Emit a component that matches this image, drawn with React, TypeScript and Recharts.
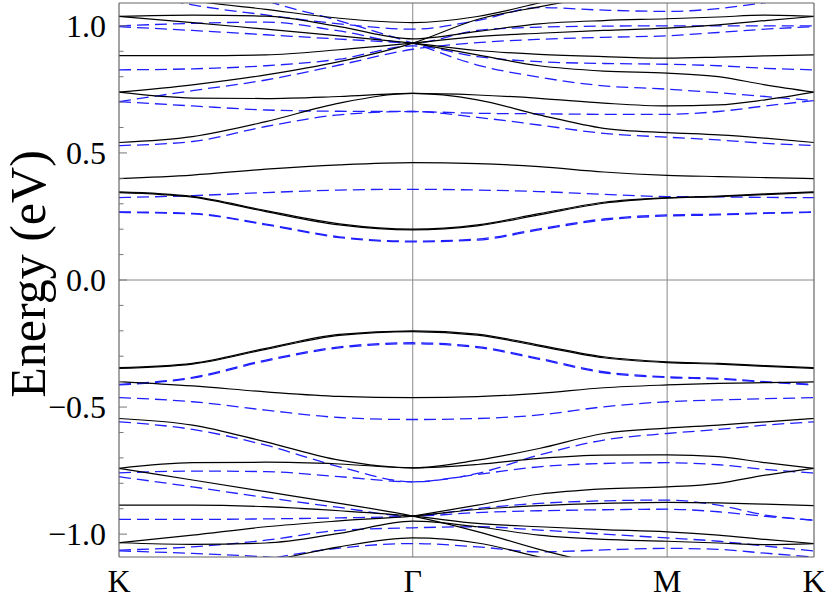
import {LineChart, Line, XAxis, YAxis, ReferenceLine} from 'recharts';

const FONT = 'Liberation Serif, Times New Roman, Nimbus Roman, serif';

// k-path positions: K, Gamma, M, K (lengths 1 : 0.866 : 0.5)
const U = [0, 0.25, 0.5, 0.75, 1, 1.22, 1.43, 1.65, 1.866, 2.04, 2.2, 2.366];
const X_TICKS = [0, 1, 1.866, 2.366];
const X_LABELS = ['K', 'Γ', 'M', 'K'];
const Y_TICKS = [
  -1.0, -0.9, -0.8, -0.7, -0.6, -0.5, -0.4, -0.3, -0.2, -0.1, 0, 0.1, 0.2,
  0.3, 0.4, 0.5, 0.6, 0.7, 0.8, 0.9, 1.0,
];
const Y_MAJOR = [-1.0, -0.5, 0, 0.5, 1.0];

// black solid bands
const c1 = [0.344, 0.326, 0.269, 0.217, 0.197, 0.213, 0.256, 0.302, 0.322, 0.328, 0.336, 0.344];
const c2 = [0.347, 0.329, 0.273, 0.221, 0.2, 0.217, 0.261, 0.306, 0.324, 0.33, 0.339, 0.347];
const c3 = [0.399, 0.413, 0.436, 0.453, 0.462, 0.458, 0.446, 0.425, 0.412, 0.407, 0.403, 0.399];
const c4 = [0.541, 0.564, 0.623, 0.696, 0.734, 0.709, 0.65, 0.597, 0.58, 0.571, 0.558, 0.541];
const c5 = [0.739, 0.716, 0.714, 0.722, 0.734, 0.728, 0.715, 0.696, 0.685, 0.689, 0.709, 0.739];
const c6 = [0.739, 0.768, 0.807, 0.859, 0.932, 1.025, 1.075, 1.12, 1.16, 1.18, 1.18, 1.17];
const c7 = [0.883, 0.883, 0.886, 0.906, 0.932, 0.958, 0.971, 0.982, 0.991, 1.004, 1.021, 1.037];
const c8 = [1.037, 1.013, 0.987, 0.961, 0.932, 0.903, 0.888, 0.879, 0.873, 0.877, 0.882, 0.886];
const c9 = [1.037, 1.042, 1.038, 0.997, 0.949, 0.978, 1.008, 1.021, 1.028, 1.035, 1.042, 1.037];
const c10 = [null, null, null, null, 0.932, 0.886, 0.843, 0.822, 0.814, 0.8, 0.768, 0.739];
const c11 = [1.16, 1.1, 1.065, 1.03, 1.013, 1.037, 1.09, 1.15, 1.18, 1.18, 1.17, 1.16];

const d1 = [-0.345, -0.328, -0.269, -0.214, -0.2, -0.213, -0.256, -0.302, -0.322, -0.328, -0.337, -0.345];
const d2 = [-0.348, -0.331, -0.273, -0.218, -0.203, -0.217, -0.26, -0.306, -0.325, -0.331, -0.34, -0.348];
const d3 = [-0.4, -0.417, -0.44, -0.458, -0.463, -0.459, -0.446, -0.424, -0.413, -0.407, -0.404, -0.401];
const d4 = [-0.545, -0.571, -0.637, -0.709, -0.739, -0.709, -0.663, -0.604, -0.583, -0.571, -0.558, -0.545];
const d5 = [-0.741, -0.719, -0.717, -0.724, -0.739, -0.726, -0.702, -0.689, -0.688, -0.695, -0.719, -0.741];
const d6 = [-0.741, -0.787, -0.833, -0.879, -0.929, -0.99, -1.06, -1.12, -1.16, -1.18, -1.18, -1.17];
const d7 = [-0.886, -0.886, -0.892, -0.908, -0.929, -0.958, -0.971, -0.982, -0.991, -1.004, -1.021, -1.037];
const d8 = [-1.034, -1.004, -0.971, -0.948, -0.929, -0.903, -0.888, -0.879, -0.875, -0.877, -0.882, -0.888];
const d9 = [-1.034, -1.04, -1.035, -0.997, -0.949, -0.971, -1.004, -1.021, -1.028, -1.035, -1.041, -1.037];
const d10 = [null, null, null, null, -0.929, -0.886, -0.843, -0.822, -0.814, -0.8, -0.768, -0.741];
const d11 = [-1.25, -1.18, -1.11, -1.05, -1.015, -1.035, -1.09, -1.15, -1.18, -1.18, -1.2, -1.25];

// blue dashed bands
const e1 = [0.324, 0.332, 0.344, 0.354, 0.357, 0.354, 0.348, 0.337, 0.328, 0.327, 0.325, 0.324];
const e2 = [0.266, 0.26, 0.217, 0.167, 0.15, 0.157, 0.197, 0.236, 0.252, 0.256, 0.262, 0.266];
const e3 = [0.268, 0.262, 0.22, 0.17, 0.153, 0.161, 0.201, 0.24, 0.256, 0.259, 0.264, 0.268];
const e4 = [0.529, 0.545, 0.604, 0.65, 0.663, 0.64, 0.61, 0.577, 0.562, 0.551, 0.538, 0.529];
const e5 = [0.702, 0.685, 0.669, 0.664, 0.663, 0.656, 0.654, 0.652, 0.652, 0.663, 0.685, 0.706];
const e6 = [0.702, 0.745, 0.787, 0.846, 0.908, 0.934, 0.947, 0.955, 0.961, 0.974, 0.987, 0.997];
const e7 = [0.827, 0.831, 0.843, 0.869, 0.921, 0.879, 0.859, 0.852, 0.849, 0.843, 0.833, 0.827];
const e8 = [1.35, 1.22, 1.1, 1.02, 0.932, 0.846, 0.798, 0.764, 0.751, 0.737, 0.722, 0.706];
const e9 = [1.0, 1.01, 1.015, 0.98, 0.932, 0.982, 0.995, 0.999, 1.0, 1.0, 1.0, 1.0];
const e10 = [0.997, 0.982, 0.965, 0.948, 0.932, null, null, null, null, null, null, null];
const e11 = [1.15, 1.083, 1.043, 1.008, 0.987, 1.021, 1.072, 1.062, 1.057, 1.068, 1.092, 1.12];

const f1 = [-0.411, -0.383, -0.315, -0.263, -0.247, -0.262, -0.308, -0.361, -0.381, -0.387, -0.4, -0.411];
const f2 = [-0.413, -0.386, -0.319, -0.267, -0.251, -0.266, -0.312, -0.365, -0.384, -0.39, -0.402, -0.413];
const f3 = [-0.463, -0.479, -0.512, -0.541, -0.549, -0.545, -0.531, -0.499, -0.479, -0.472, -0.467, -0.463];
const f4 = [-0.558, -0.588, -0.65, -0.735, -0.794, -0.761, -0.689, -0.63, -0.604, -0.588, -0.571, -0.558];
const f5 = [-0.759, -0.752, -0.754, -0.774, -0.794, -0.765, -0.735, -0.722, -0.719, -0.727, -0.745, -0.76];
const f6 = [-0.774, -0.814, -0.856, -0.895, -0.929, -0.915, -0.908, -0.904, -0.902, -0.912, -0.93, -0.945];
const f7 = [-0.942, -0.942, -0.94, -0.936, -0.929, -0.899, -0.879, -0.869, -0.866, -0.886, -0.925, -0.945];
const f8 = [-1.063, -1.05, -1.024, -0.985, -0.975, -0.971, -0.984, -1.0, -1.015, -1.028, -1.047, -1.066];
const f9 = [-1.066, -1.076, -1.09, -1.12, -1.16, -1.2, -1.2, -1.18, -1.15, -1.13, -1.12, -1.12];
const f10 = [-1.25, -1.17, -1.1, -1.055, -1.037, -1.05, -1.07, -1.062, -1.056, -1.06, -1.075, -1.09];

const BLACK = [c1, c2, c3, c4, c5, c6, c7, c8, c9, c10, c11, d1, d2, d3, d4, d5, d6, d7, d8, d9, d10, d11];
const BLUE = [e1, e2, e3, e4, e5, e6, e7, e8, e9, e10, e11, f1, f2, f3, f4, f5, f6, f7, f8, f9, f10];

const AXIS_X = 119;
const X_MAX = 2.366;
const Y_MIN = -1.09;
const Y_MAX = 1.09;

const toPoints = (band: (number | null)[]) =>
  band.map((e, i) => ({u: U[i], e}));

const fmt = (v: number) => {
  const s = Math.abs(v).toFixed(1);
  return v < 0 ? `\u2212${s}` : s;
};

const textStyle = {fontFamily: FONT};

const YTick = (props: any) => {
  const {y, payload} = props;
  const v = payload.value;
  const major = Y_MAJOR.some((m) => Math.abs(m - v) < 1e-6);
  return (
    <g>
      <line
        x1={AXIS_X}
        x2={AXIS_X + (major ? 8 : 4.5)}
        y1={y}
        y2={y}
        stroke="#777"
        strokeWidth={1}
      />
      {major && (
        <text
          x={106}
          y={y}
          dy="0.34em"
          textAnchor="end"
          fontSize={32}
          style={textStyle}
          fill="#000">
          {fmt(v)}
        </text>
      )}
    </g>
  );
};

const XTick = (props: any) => {
  const {x, payload} = props;
  const i = X_TICKS.findIndex((t) => Math.abs(t - payload.value) < 1e-6);
  return (
    <text
      x={x}
      y={592}
      textAnchor="middle"
      fontSize={32}
      style={textStyle}
      fill="#000">
      {X_LABELS[i]}
    </text>
  );
};

const YLabel = () => (
  <text
    transform="translate(45,274) rotate(-90)"
    textAnchor="middle"
    fontSize={50}
    style={textStyle}
    fill="#000">
    Energy (eV)
  </text>
);

const App = () => {
  return (
    <div
      style={{
        position: 'absolute',
        left: 0,
        top: 0,
        width: 830,
        height: 602,
        background: '#fff',
      }}>
      <LineChart
        width={830}
        height={602}
        margin={{top: 3, right: 16, bottom: 0, left: 0}}>
        <XAxis
          dataKey="u"
          type="number"
          domain={[0, X_MAX]}
          ticks={X_TICKS}
          tick={<XTick />}
          height={45}
          axisLine={false}
          tickLine={false}
          allowDataOverflow
          interval={0}
        />
        <YAxis
          type="number"
          domain={[Y_MIN, Y_MAX]}
          ticks={Y_TICKS}
          tick={<YTick />}
          width={AXIS_X}
          axisLine={false}
          tickLine={false}
          allowDataOverflow
          interval={0}
          label={{content: () => <YLabel />}}
        />
        <ReferenceLine x={1} stroke="#888" strokeWidth={1} />
        <ReferenceLine x={1.866} stroke="#888" strokeWidth={1} />
        <ReferenceLine y={0} stroke="#888" strokeWidth={1} />
        {BLUE.map((band, i) => (
          <Line
            key={`b${i}`}
            data={toPoints(band)}
            dataKey="e"
            type="monotone"
            stroke="#1f1fff"
            strokeWidth={1.3}
            strokeDasharray="12 6"
            dot={false}
            activeDot={false}
            isAnimationActive={false}
          />
        ))}
        {BLACK.map((band, i) => (
          <Line
            key={`k${i}`}
            data={toPoints(band)}
            dataKey="e"
            type="monotone"
            stroke="#000"
            strokeWidth={1.2}
            dot={false}
            activeDot={false}
            isAnimationActive={false}
          />
        ))}
        <ReferenceLine x={0} stroke="#666" strokeWidth={1.2} />
        <ReferenceLine x={X_MAX} stroke="#666" strokeWidth={1.2} />
        <ReferenceLine y={Y_MAX} stroke="#666" strokeWidth={1.2} />
        <ReferenceLine y={Y_MIN} stroke="#666" strokeWidth={1.2} />
      </LineChart>
    </div>
  );
};

export default App;
